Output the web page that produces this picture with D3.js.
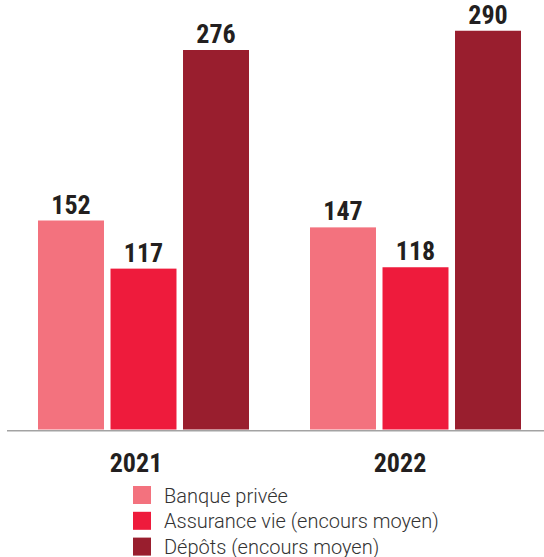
<!DOCTYPE html>
<html>
<head>
<meta charset="utf-8">
<script src="https://cdn.jsdelivr.net/npm/d3@7"></script>
<style>
  body { margin: 0; background: #fff; }
</style>
</head>
<body>
<svg id="chart"></svg>
<script>
const years = ["2021", "2022"];
const series = ["Banque privée", "Assurance vie (encours moyen)", "Dépôts (encours moyen)"];
const banquePrivee = [152, 147];
const assuranceVie = [117, 118];
const depots = [276, 290];
const colors = ["#f3727e", "#ee1b3c", "#991e2e"];

const values = [banquePrivee, assuranceVie, depots];
const data = [];
years.forEach((y, i) => {
  series.forEach((s, j) => {
    data.push({ year: y, serie: s, value: values[j][i], color: colors[j] });
  });
});

const svgWidth = 544;
const svgHeight = 557;
const baseline = 429.5;

const svg = d3.select("#chart")
  .attr("width", svgWidth)
  .attr("height", svgHeight);

const x0 = d3.scaleBand()
  .domain(years)
  .range([7.5, 551.5])
  .padding(0);

const x1 = d3.scaleBand()
  .domain(series)
  .range([30.5, 241.5])
  .paddingInner(0.09)
  .paddingOuter(0);

const y = d3.scaleLinear()
  .domain([0, 300])
  .range([baseline, baseline - 300 * 1.375]);

svg.selectAll(".bar")
  .data(data)
  .enter()
  .append("rect")
  .attr("class", "bar")
  .attr("x", d => x0(d.year) + x1(d.serie))
  .attr("y", d => y(d.value))
  .attr("width", x1.bandwidth())
  .attr("height", d => baseline - y(d.value))
  .attr("fill", d => d.color);

svg.selectAll(".val")
  .data(data)
  .enter()
  .append("text")
  .attr("class", "val")
  .attr("x", d => x0(d.year) + x1(d.serie) + x1.bandwidth() / 2)
  .attr("y", d => y(d.value) - 7)
  .attr("text-anchor", "middle")
  .attr("font-family", "'Liberation Sans Narrow', 'Roboto Condensed', Arial, sans-serif")
  .attr("font-weight", "bold")
  .attr("font-size", "26px")
  .attr("fill", "#231f20")
  .text(d => d.value);

// axis line
svg.append("line")
  .attr("x1", 7)
  .attr("x2", svgWidth)
  .attr("y1", baseline + 1.2)
  .attr("y2", baseline + 1.2)
  .attr("stroke", "#a3a3a3")
  .attr("stroke-width", 1.6);

// year labels
const xLabel = d3.scalePoint()
  .domain(years)
  .range([136, 400]);

svg.selectAll(".year")
  .data(years)
  .enter()
  .append("text")
  .attr("class", "year")
  .attr("x", d => xLabel(d))
  .attr("y", 471.5)
  .attr("text-anchor", "middle")
  .attr("font-family", "'Liberation Sans Narrow', 'Roboto Condensed', Arial, sans-serif")
  .attr("font-weight", "bold")
  .attr("font-size", "26px")
  .attr("fill", "#231f20")
  .text(d => d);

// legend
const legend = svg.append("g")
  .attr("transform", "translate(133,486)");

const rows = legend.selectAll(".leg")
  .data(series)
  .enter()
  .append("g")
  .attr("class", "leg")
  .attr("transform", (d, i) => `translate(0,${i * 25.8})`);

rows.append("rect")
  .attr("width", 18)
  .attr("height", 18)
  .attr("fill", (d, i) => colors[i]);

rows.append("text")
  .attr("x", 31)
  .attr("y", 16.5)
  .attr("font-family", "Roboto, 'Liberation Sans', Arial, sans-serif")
  .attr("font-weight", 300)
  .attr("font-size", "20px")
  .attr("fill", "#333")
  .text(d => d);
</script>
</body>
</html>
